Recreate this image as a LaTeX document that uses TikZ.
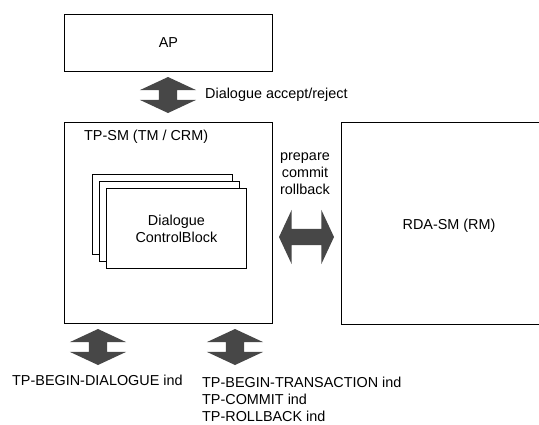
\documentclass[tikz,border=0pt]{standalone}
\usepackage{fontspec}
\setmainfont{Liberation Sans}
\usepackage{tikz}
\usetikzlibrary{positioning}
\usetikzlibrary{shapes.arrows}

\begin{document}
\begin{tikzpicture}[x=1pt,y=-1pt,font=\fontsize{14.4}{17}\selectfont,
    box/.style={draw,line width=0.8pt,inner sep=0pt,anchor=north west},
    card/.style={box,fill=white,minimum width=140pt,minimum height=80pt},
    lbl/.style={inner sep=0pt},
    fatarrow/.style={double arrow,fill=black!72,inner xsep=0pt,inner ysep=9pt,minimum width=56pt,
        double arrow head extend=19pt,double arrow tip angle=130}]
\useasboundingbox (0,0) rectangle (539,424);
\node[box,minimum width=208pt,minimum height=57pt] (ap) at (64,14) {AP};
\node[box,minimum width=208pt,minimum height=201pt] (tpsm) at (64,122) {};
\node[box,minimum width=220pt,minimum height=202pt] (rdasm) at (341,122) {};
\node[lbl,anchor=west] (tpsmlbl) at (84,137) {TP-SM (TM / CRM)};
\node[lbl] (rdalbl) at (449,226) {RDA-SM (RM)};
\node[card] (cb3) at (92,174) {};
\node[card] (cb2) at (99,181) {};
\node[card,align=center] (cb1) at (106,188) {Dialogue\\ControlBlock};
\node[fatarrow,rotate=90,minimum height=36pt] (accarr) at (168,95) {};
\node[lbl,anchor=west] (acclbl) at (205,95) {Dialogue accept/reject};
\node[lbl,align=center] (pcr) at (305,174) {prepare\\commit\\rollback};
\node[fatarrow,minimum height=55pt,minimum width=54pt,inner ysep=8pt] (rmarr) at (306.5,237) {};
\node[fatarrow,rotate=90,minimum height=36pt] (bdarr) at (98,347) {};
\node[fatarrow,rotate=90,minimum height=36pt] (btarr) at (235,347) {};
\node[lbl,anchor=base west] (bdlbl) at (12,385) {TP-BEGIN-DIALOGUE ind};
\node[lbl,anchor=north west,align=left] (btlbl) at (202,376.5) {TP-BEGIN-TRANSACTION ind\\TP-COMMIT ind\\TP-ROLLBACK ind};
\end{tikzpicture}
\end{document}
